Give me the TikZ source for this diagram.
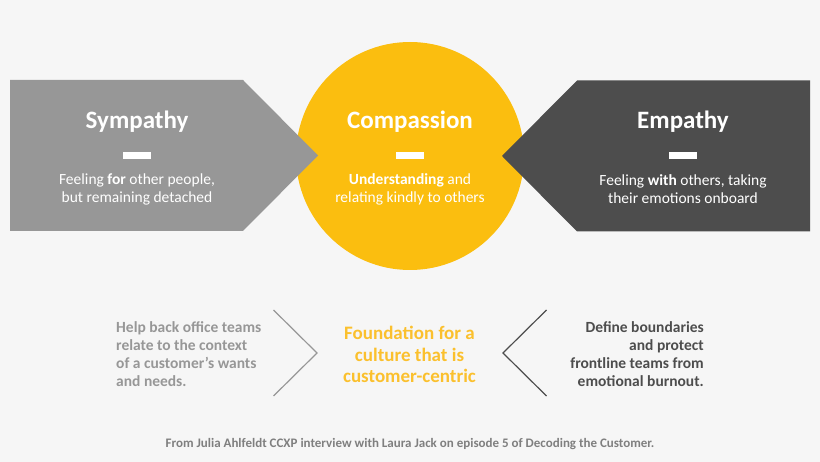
\documentclass[tikz,border=0pt]{standalone}
\usepackage{fontspec}
\setmainfont{Carlito}
\definecolor{bggray}{HTML}{F6F6F6}
\definecolor{symgray}{HTML}{979797}
\definecolor{empgray}{HTML}{4D4D4D}
\definecolor{compyellow}{HTML}{FBBE0F}
\definecolor{noteyellow}{HTML}{FBC02D}
\definecolor{footgray}{HTML}{7F7F7F}
\tikzset{
  headtext/.style={white, font=\fontsize{25}{30}\selectfont\bfseries},
  bodytext/.style={white, align=center, font=\fontsize{15.5}{18}\selectfont},
  notetext/.style={font=\fontsize{15.5}{18}\selectfont\bfseries},
  dashbar/.style={fill=white, minimum width=28pt, minimum height=6.5pt, inner sep=0pt},
}
\begin{document}
\begin{tikzpicture}[x=1pt, y=-1pt]
        \useasboundingbox[fill=bggray] (0,0) rectangle (820,462);

        \fill[compyellow] (410,156) circle (114);
        \fill[symgray] (10,80) -- (243,80) -- (318,155.5) -- (243,231) -- (10,231) -- cycle;
        \fill[empgray] (810,80.5) -- (577,80.5) -- (502,156) -- (577,231.5) -- (810,231.5) -- cycle;

        \node[headtext] (symhead) at (137,122) {Sympathy};
        \node[dashbar] (symdash) at (137,155.5) {};
        \node[bodytext] (symbody) at (137,189) {Feeling \textbf{for} other people,\\but remaining detached};

        \node[headtext] (comphead) at (410,122) {Compassion};
        \node[dashbar] (compdash) at (410,155.5) {};
        \node[bodytext] (compbody) at (410,189) {\textbf{Understanding} and\\relating kindly to others};

        \node[headtext] (emphead) at (683,122) {Empathy};
        \node[dashbar] (empdash) at (683,155.5) {};
        \node[bodytext] (empbody) at (683,189) {Feeling \textbf{with} others, taking\\their emotions onboard};

        \draw[symgray, line width=1.2pt] (273.5,310) -- (317,353) -- (273.5,396);
        \draw[empgray, line width=1.2pt] (546.5,310) -- (503,353) -- (546.5,396);

        \node[notetext, symgray, align=left, anchor=west, inner sep=0pt] (helptext) at (116,354) {Help back office teams\\relate to the context\\of a customer's wants\\and needs.};
        \node[notetext, empgray, align=right, anchor=east, inner sep=0pt] (definetext) at (704,354) {Define boundaries\\and protect\\frontline teams from\\emotional burnout.};
        \node[noteyellow, align=center, font=\fontsize{19}{21.5}\selectfont\bfseries] (foundtext) at (409.5,354.5) {Foundation for a\\culture that is\\customer-centric};

        \node[footgray, font=\fontsize{13}{15}\selectfont\bfseries] (sourcetext) at (410,444) {From Julia Ahlfeldt CCXP interview with Laura Jack on episode 5 of Decoding the Customer.};
\end{tikzpicture}
\end{document}
